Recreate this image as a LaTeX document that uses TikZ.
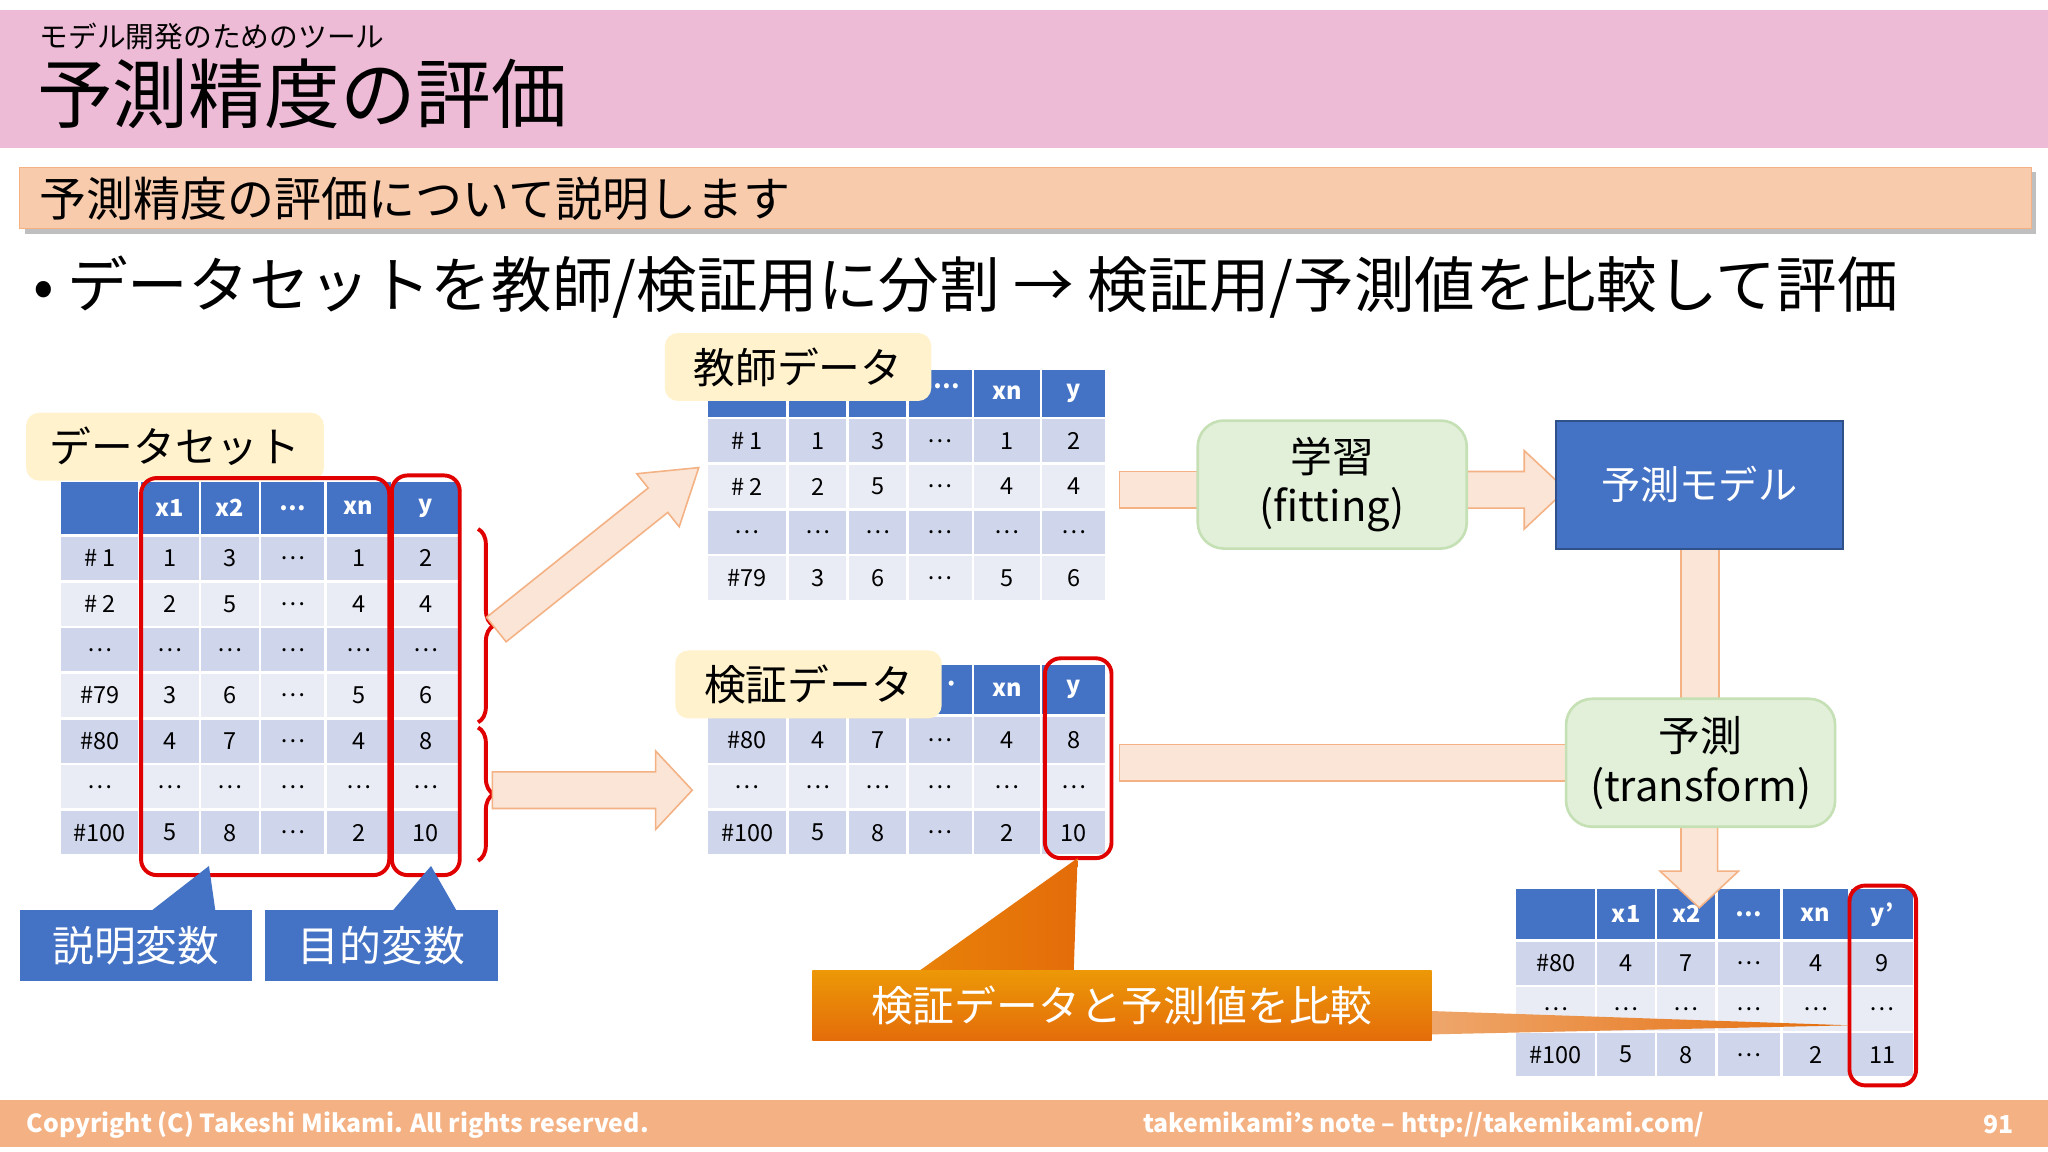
\documentclass[tikz,border=0pt]{standalone}
\usepackage{fontspec}
\setmainfont{Noto Sans CJK JP}
\usetikzlibrary{calc,decorations.pathreplacing,shadows}
\definecolor{hdr}{HTML}{4472C4}
\definecolor{rA}{HTML}{CFD5EA}
\definecolor{rB}{HTML}{E9EBF5}
\definecolor{pk}{HTML}{EDBBD5}
\definecolor{peach}{HTML}{F8CBAD}
\definecolor{aF}{HTML}{FBE5D6}
\definecolor{aS}{HTML}{F4B183}
\definecolor{gF}{HTML}{E2F0D9}
\definecolor{gS}{HTML}{C5E0B4}
\definecolor{yl}{HTML}{FFF2CC}
\definecolor{foot}{HTML}{F4B183}
\definecolor{og}{HTML}{E46C0A}
\definecolor{mred}{HTML}{E00000}
\tikzset{
 cell/.style={font=\fontsize{9}{10}\selectfont,inner sep=0pt},
 hcell/.style={font=\bfseries\fontsize{9}{10}\selectfont,text=white,inner sep=0pt},
 blk/.style={fill=aF,draw=aS,line width=0.6pt},
 redbox/.style={draw=mred,line width=1.5pt,rounded corners=6pt},
 lbl/.style={fill=yl,rounded corners=5pt,font=\fontsize{16}{18}\selectfont,inner sep=0pt},
 gbox/.style={fill=gF,draw=gS,line width=1pt,rounded corners=10pt,font=\fontsize{16}{19}\selectfont,align=center},
 bcall/.style={fill=hdr,text=white,font=\fontsize{16}{18}\selectfont,inner sep=0pt},
}
\newcommand\trow[6]{%
 \foreach[count=\i] \t in {#6}{%
  \pgfmathsetmacro\xa{{\edges}[\i-1]}%
  \pgfmathsetmacro\xb{{\edges}[\i]}%
  \fill[#4,draw=white,line width=1pt] (\xa,#2) rectangle (\xb,#3);
  \node[#5] (#1-\i) at ({(\xa+\xb)/2},{(#2+#3)/2}) {\t};
 }}
\newcommand\blockarrow[5]{%
 \coordinate (H) at ($(#2)!#5!(#1)$);
 \draw[blk] ($(#1)!#3!90:(#2)$) -- ($(H)!#3!-90:(#1)$) -- ($(H)!#4!-90:(#1)$) -- (#2) -- ($(H)!#4!90:(#1)$) -- ($(H)!#3!90:(#1)$) -- ($(#1)!#3!-90:(#2)$) -- cycle;}
\begin{document}
\begin{tikzpicture}[x=0.5pt,y=-0.5pt]
\useasboundingbox (0,0) rectangle (1568,882);
\fill[white] (0,0) rectangle (1568,882);
% header
\fill[pk] (0,8) rectangle (1568,113);
\node[anchor=west,font=\fontsize{11}{12}\selectfont,inner sep=0] (sup) at (30,28) {モデル開発のためのツール};
\node[anchor=west,font=\fontsize{29}{32}\selectfont,inner sep=0] (ttl) at (28,72) {予測精度の評価};
\fill[gray!50] (19,132) rectangle (1559,179);
\fill[peach,draw=aS] (15,128) rectangle (1555,175);
\node[anchor=west,font=\fontsize{18}{20}\selectfont,inner sep=0] (sub) at (30,152) {予測精度の評価について説明します};
\node[anchor=west,font=\fontsize{23.2}{25}\selectfont,inner sep=0] (bul) at (25,220) {• データセットを教師/検証用に分割 → 検証用/予測値を比較して評価};
% dataset table
\def\edges{46,107,153,199,249,300,352}
\trow{d0}{368}{410}{hdr}{hcell}{,x1,x2,…,xn,y}
\trow{d1}{410}{445}{rA}{cell}{\# 1,1,3,…,1,2}
\trow{d2}{445}{480}{rB}{cell}{\# 2,2,5,…,4,4}
\trow{d3}{480}{515}{rA}{cell}{…,…,…,…,…,…}
\trow{d4}{515}{550}{rB}{cell}{\#79,3,6,…,5,6}
\trow{d5}{550}{585}{rA}{cell}{\#80,4,7,…,4,8}
\trow{d6}{585}{620}{rB}{cell}{…,…,…,…,…,…}
\trow{d7}{620}{655}{rA}{cell}{\#100,5,8,…,2,10}
\node[lbl,minimum width=114pt,minimum height=26pt] (dsl) at (134,342) {データセット};
% teacher table
\def\edges{541,603,649,695,745,797,847}
\trow{t0}{282}{320}{hdr}{hcell}{,,,,xn,y}
\trow{t1}{320}{355}{rA}{cell}{\# 1,1,3,…,1,2}
\trow{t2}{355}{390}{rB}{cell}{\# 2,2,5,…,4,4}
\trow{t3}{390}{425}{rA}{cell}{…,…,…,…,…,…}
\trow{t4}{425}{460}{rB}{cell}{\#79,3,6,…,5,6}
\node[lbl,minimum width=102pt,minimum height=26pt] (tl) at (611,281) {教師データ};
\node[hcell,anchor=west] (tdots) at (714,296) {…};
% validation table
\trow{v0}{508}{548}{hdr}{hcell}{,,,,xn,y}
\trow{v1}{548}{585}{rA}{cell}{\#80,4,7,…,4,8}
\trow{v2}{585}{620}{rB}{cell}{…,…,…,…,…,…}
\trow{v3}{620}{655}{rA}{cell}{\#100,5,8,…,2,10}
\node[lbl,minimum width=102pt,minimum height=26pt] (vl) at (619,524) {検証データ};
\node[hcell,anchor=west] (vdots) at (723,526) {·};
% result table
\def\edges{1160,1222,1268,1314,1364,1416,1466}
\trow{r0}{680}{720}{hdr}{hcell}{,x1,x2,…,xn,y’}
\trow{r1}{720}{755}{rA}{cell}{\#80,4,7,…,4,9}
\trow{r2}{755}{790}{rB}{cell}{…,…,…,…,…,…}
\trow{r3}{790}{825}{rA}{cell}{\#100,5,8,…,2,11}
% red boxes
\draw[redbox] (108,366) rectangle (298,670);
\draw[redbox] (300,364) rectangle (352,670);
\draw[redbox] (800,504) rectangle (851,657);
\draw[redbox] (1416,678) rectangle (1467,831);
\draw[mred,line width=1.5pt,decorate,decoration={brace,amplitude=6pt}] (366,405) -- (366,553);
\draw[mred,line width=1.5pt,decorate,decoration={brace,amplitude=6pt}] (366,557) -- (366,659);
% block arrows
\coordinate (a1) at (380,482); \coordinate (b1) at (535,358);
\blockarrow{a1}{b1}{6pt}{13pt}{20pt}
\coordinate (a2) at (377,605); \coordinate (b2) at (530,605);
\blockarrow{a2}{b2}{7pt}{15pt}{14pt}
\draw[blk] (857,361) rectangle (917,389);
\coordinate (a3) at (1123,375); \coordinate (b3) at (1199,375);
\blockarrow{a3}{b3}{7pt}{15pt}{16pt}
\draw[blk] (1287,405) rectangle (1316,535);
\draw[blk] (857,570) rectangle (1200,598);
\coordinate (a4) at (1301,633); \coordinate (b4) at (1301,695);
\blockarrow{a4}{b4}{7pt}{15pt}{14pt}
% boxes
\node[gbox,minimum width=103pt,minimum height=49pt] (fit) at (1020,371) {学習\\(fitting)};
\node[fill=hdr,draw=hdr!70!black,line width=0.8pt,minimum width=110pt,minimum height=49pt,text=white,font=\fontsize{15}{18}\selectfont] (mdl) at (1301,371) {予測モデル};
\node[gbox,minimum width=103pt,minimum height=49pt] (pred) at (1302,584) {予測\\(transform)};
% callouts
\fill[hdr] (115,698) -- (160,663) -- (165,698) -- cycle;
\node[bcall,minimum width=89pt,minimum height=27pt] (expl) at (104,724) {説明変数};
\fill[hdr] (300,698) -- (330,663) -- (350,698) -- cycle;
\node[bcall,minimum width=89pt,minimum height=27pt] (targ) at (292,724) {目的変数};
\shade[left color=og!85!yellow,right color=og] (700,746) -- (825,657) -- (822,746) -- cycle;
\shade[left color=og!60!white,right color=og] (1094,774) -- (1416,785) -- (1094,792) -- cycle;
\node[top color=og!70!yellow,bottom color=og,text=white,minimum width=237pt,minimum height=27pt,font=\fontsize{16}{18}\selectfont,inner sep=0pt] (cmp) at (859,770) {検証データと予測値を比較};
% footer
\fill[foot] (0,842) rectangle (1568,878);
\node[anchor=west,text=white,font=\bfseries\fontsize{9.5}{11}\selectfont,inner sep=0] (cp) at (20,861) {Copyright (C) Takeshi Mikami. All rights reserved.};
\node[anchor=center,text=white,font=\bfseries\fontsize{9.5}{11}\selectfont,inner sep=0] (nt) at (1090,861) {takemikami’s note – http://takemikami.com/};
\node[anchor=east,text=white,font=\bfseries\fontsize{9.5}{11}\selectfont,inner sep=0] (pg) at (1542,861) {91};
\end{tikzpicture}
\end{document}
